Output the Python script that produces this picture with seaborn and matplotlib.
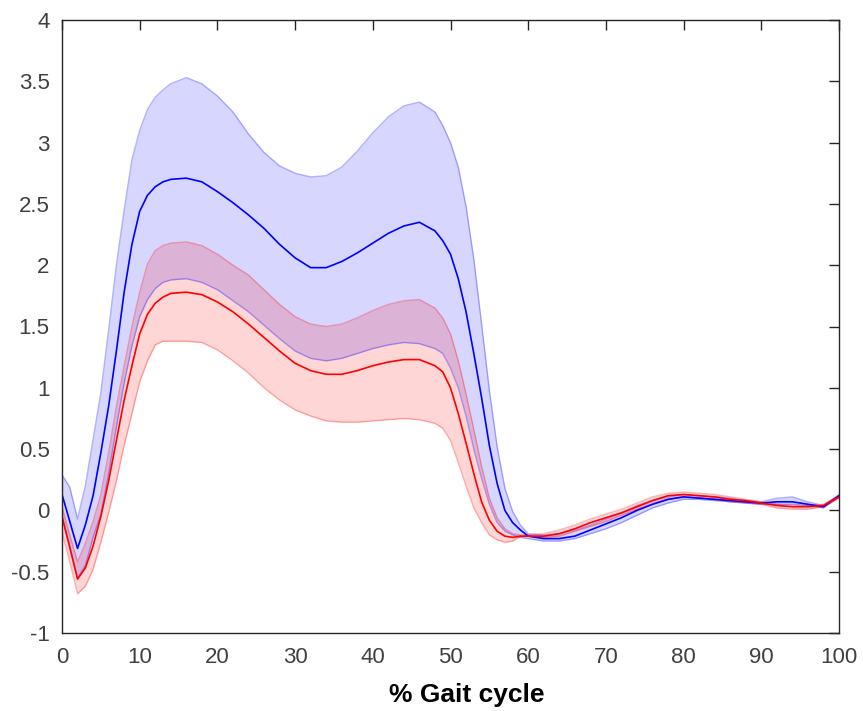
import numpy as np
import pandas as pd
import matplotlib
matplotlib.use("Agg")
import matplotlib.pyplot as plt
import seaborn as sns

# ---------------- data ----------------
gait = [0, 1, 2, 3, 4, 5, 6, 7, 8, 9, 10, 11, 12, 13, 14,
        16, 18, 20, 22, 24, 26, 28, 30, 32, 34, 36, 38, 40, 42, 44, 46,
        48, 49, 50, 51, 52, 53, 54, 55, 56, 57, 58, 59, 60,
        62, 64, 66, 68, 70, 72, 74, 76, 78, 80, 82, 84, 86, 88, 90,
        92, 94, 96, 98, 100]

blue_mean = [0.13, -0.09, -0.31, -0.12, 0.12, 0.47, 0.85, 1.30, 1.78, 2.17, 2.44, 2.57, 2.64, 2.68, 2.70,
             2.71, 2.68, 2.60, 2.51, 2.41, 2.30, 2.17, 2.06, 1.98, 1.98, 2.03, 2.10, 2.18, 2.26, 2.32, 2.35,
             2.28, 2.20, 2.09, 1.89, 1.62, 1.28, 0.92, 0.53, 0.22, 0.00, -0.10, -0.16, -0.21,
             -0.23, -0.23, -0.21, -0.16, -0.11, -0.06, 0.00, 0.05, 0.09, 0.11, 0.10, 0.09, 0.08, 0.07, 0.06,
             0.07, 0.07, 0.05, 0.03, 0.12]

blue_upper = [0.29, 0.19, -0.07, 0.20, 0.58, 0.96, 1.47, 2.00, 2.45, 2.86, 3.10, 3.27, 3.37, 3.43, 3.48,
              3.53, 3.48, 3.38, 3.25, 3.07, 2.92, 2.81, 2.75, 2.72, 2.73, 2.80, 2.93, 3.08, 3.21, 3.30, 3.33,
              3.25, 3.14, 3.00, 2.80, 2.48, 2.05, 1.52, 0.98, 0.52, 0.18, -0.01, -0.12, -0.19,
              -0.20, -0.19, -0.16, -0.12, -0.07, -0.02, 0.04, 0.08, 0.11, 0.13, 0.12, 0.11, 0.10, 0.08, 0.07,
              0.10, 0.11, 0.07, 0.04, 0.13]

blue_lower = [-0.05, -0.30, -0.55, -0.45, -0.22, -0.03, 0.30, 0.68, 1.04, 1.34, 1.58, 1.72, 1.81, 1.86, 1.88,
              1.89, 1.86, 1.80, 1.71, 1.62, 1.51, 1.40, 1.30, 1.24, 1.22, 1.24, 1.28, 1.32, 1.35, 1.37, 1.36,
              1.32, 1.28, 1.16, 1.00, 0.77, 0.50, 0.26, 0.05, -0.10, -0.17, -0.20, -0.22, -0.23,
              -0.25, -0.25, -0.23, -0.19, -0.15, -0.10, -0.04, 0.02, 0.06, 0.09, 0.09, 0.08, 0.07, 0.06, 0.05,
              0.05, 0.05, 0.04, 0.02, 0.11]

red_mean = [-0.05, -0.30, -0.56, -0.47, -0.29, -0.05, 0.24, 0.57, 0.90, 1.18, 1.44, 1.60, 1.69, 1.74, 1.77,
            1.78, 1.76, 1.70, 1.62, 1.52, 1.41, 1.30, 1.20, 1.14, 1.11, 1.11, 1.14, 1.18, 1.21, 1.23, 1.23,
            1.18, 1.13, 1.00, 0.79, 0.55, 0.30, 0.07, -0.08, -0.17, -0.21, -0.22, -0.21, -0.21,
            -0.21, -0.19, -0.15, -0.10, -0.06, -0.02, 0.03, 0.08, 0.12, 0.13, 0.12, 0.11, 0.09, 0.08, 0.06,
            0.04, 0.03, 0.03, 0.04, 0.11]

red_upper = [0.03, -0.20, -0.42, -0.27, -0.09, 0.13, 0.47, 0.85, 1.18, 1.50, 1.78, 2.01, 2.12, 2.16, 2.18,
             2.19, 2.16, 2.09, 2.00, 1.92, 1.80, 1.68, 1.58, 1.52, 1.50, 1.52, 1.57, 1.63, 1.68, 1.71, 1.72,
             1.65, 1.57, 1.44, 1.22, 0.95, 0.66, 0.36, 0.10, -0.06, -0.15, -0.19, -0.20, -0.20,
             -0.19, -0.16, -0.12, -0.07, -0.03, 0.01, 0.06, 0.11, 0.14, 0.15, 0.14, 0.13, 0.11, 0.09, 0.07,
             0.05, 0.04, 0.04, 0.05, 0.12]

red_lower = [-0.18, -0.42, -0.68, -0.62, -0.48, -0.26, -0.02, 0.24, 0.53, 0.79, 1.05, 1.22, 1.35, 1.38, 1.38,
             1.38, 1.37, 1.31, 1.22, 1.12, 1.00, 0.90, 0.82, 0.77, 0.73, 0.72, 0.72, 0.73, 0.74, 0.75, 0.74,
             0.71, 0.67, 0.57, 0.39, 0.20, 0.02, -0.10, -0.20, -0.24, -0.26, -0.25, -0.21, -0.21,
             -0.22, -0.21, -0.17, -0.13, -0.09, -0.04, 0.01, 0.05, 0.09, 0.11, 0.10, 0.09, 0.07, 0.06, 0.05,
             0.02, 0.01, 0.01, 0.03, 0.10]

x_ticks = [0, 10, 20, 30, 40, 50, 60, 70, 80, 90, 100]
y_ticks = [-1, -0.5, 0, 0.5, 1, 1.5, 2, 2.5, 3, 3.5, 4]
y_tick_labels = ["-1", "-0.5", "0", "0.5", "1", "1.5", "2", "2.5", "3", "3.5", "4"]
x_label = "% Gait cycle"

# ---------------- plot ----------------
sns.set_theme(style="white")
plt.rcParams["font.family"] = ["Liberation Sans", "DejaVu Sans"]

fig = plt.figure(figsize=(8.63, 7.11), dpi=100)
ax = fig.add_axes([62 / 863, 78 / 711, 777 / 863, 613 / 711])

df = pd.DataFrame({
    "gait": gait * 2,
    "value": blue_mean + red_mean,
    "group": ["blue"] * len(gait) + ["red"] * len(gait),
})

# bands
ax.fill_between(gait, blue_lower, blue_upper, color=(0, 0, 1), alpha=0.16, linewidth=0)
for edge in (blue_upper, blue_lower):
    ax.plot(gait, edge, color=(0, 0, 1), alpha=0.3, linewidth=1.0)
ax.fill_between(gait, red_lower, red_upper, color=(1, 0, 0), alpha=0.16, linewidth=0)
for edge in (red_upper, red_lower):
    ax.plot(gait, edge, color=(1, 0, 0), alpha=0.3, linewidth=1.0)

sns.lineplot(data=df, x="gait", y="value", hue="group",
             palette={"blue": (0, 0, 1), "red": (1, 0, 0)},
             linewidth=1.2, legend=False, ax=ax, estimator=None, sort=False)

ax.set_xlim(0, 100)
ax.set_ylim(-1, 4)
ax.set_xticks(x_ticks)
ax.set_xticklabels([str(t) for t in x_ticks])
ax.set_yticks(y_ticks)
ax.set_yticklabels(y_tick_labels)

tick_col = "#262626"
ax.tick_params(axis="both", which="both", direction="in", length=7, width=1,
               colors=tick_col, labelsize=16, top=True, right=True,
               labelcolor="#404040")
ax.tick_params(axis="x", pad=10)
ax.tick_params(axis="y", pad=9)
for s in ax.spines.values():
    s.set_visible(True)
    s.set_color(tick_col)
    s.set_linewidth(1.0)

ax.set_ylabel("")
ax.set_xlabel(x_label, fontsize=19, fontweight="bold", color="black")
ax.xaxis.set_label_coords((467 - 62) / 777, -0.081)
ax.grid(False)

fig.savefig("out.png", dpi=100)
